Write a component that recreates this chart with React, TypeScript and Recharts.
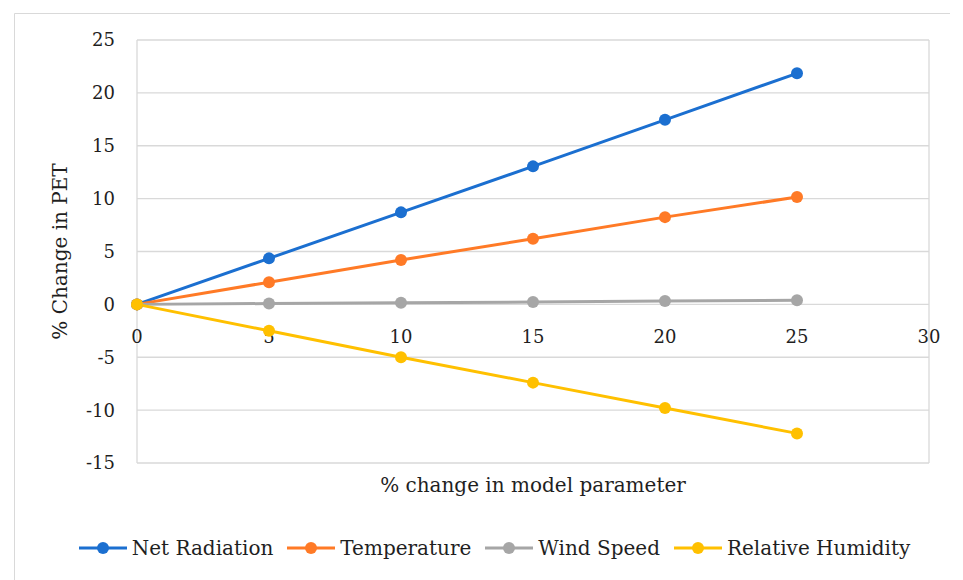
import React from 'react';
import { ComposedChart, Line, Scatter, XAxis, YAxis, CartesianGrid, Legend } from 'recharts';

const xValues = [0, 5, 10, 15, 20, 25];
const netRadiation = [0, 4.35, 8.7, 13.05, 17.45, 21.85];
const temperature = [0, 2.1, 4.2, 6.2, 8.25, 10.15];
const windSpeed = [0, 0.08, 0.16, 0.22, 0.31, 0.4];
const relativeHumidity = [0, -2.5, -5.0, -7.4, -9.8, -12.2];

const xTicks = [0, 5, 10, 15, 20, 25, 30];
const yTicks = [-15, -10, -5, 0, 5, 10, 15, 20, 25];

const seriesNames = ['Net Radiation', 'Temperature', 'Wind Speed', 'Relative Humidity'];
const seriesKeys = ['nr', 'temp', 'wind', 'rh'];
const seriesColors = ['#1b6fd0', '#ff7a26', '#a6a6a6', '#ffc000'];

const data = xValues.map((x, i) => ({
  x,
  nr: netRadiation[i],
  temp: temperature[i],
  wind: windSpeed[i],
  rh: relativeHumidity[i],
}));

const xLabelData = xTicks.map((x) => ({ x, y: 0 }));

const FONT = '"DejaVu Serif", serif';
const TEXT = '#1f1f1f';

const XLabelShape = (props: any) => {
  const { cx, cy, payload } = props;
  return (
    <text x={cx} y={cy + 32} textAnchor="middle" dominantBaseline="central" fontFamily={FONT} fontSize={18} fill={TEXT}>
      {payload.x}
    </text>
  );
};

const LegendContent = () => (
  <div style={{ display: 'flex', justifyContent: 'center', alignItems: 'center', fontFamily: FONT, fontSize: 20, color: TEXT }}>
    {seriesNames.map((name, i) => (
      <div key={name} style={{ display: 'flex', alignItems: 'center', marginRight: i < seriesNames.length - 1 ? 13 : 0 }}>
        <svg width={50} height={14} style={{ marginRight: 4 }}>
          <line x1={1} y1={7} x2={49} y2={7} stroke={seriesColors[i]} strokeWidth={3} />
          <circle cx={25} cy={7} r={6} fill={seriesColors[i]} />
        </svg>
        <span>{name}</span>
      </div>
    ))}
  </div>
);

export default function App() {
  return (
    <div style={{ position: 'absolute', left: 0, top: 0, width: 963, height: 580, background: '#fff' }}>
      <svg width={963} height={580} style={{ position: 'absolute', left: 0, top: 0 }}>
        <line x1={14.5} y1={13.5} x2={950} y2={13.5} stroke="#d9d9d9" strokeWidth={1} />
        <line x1={14.5} y1={13.5} x2={14.5} y2={580} stroke="#d9d9d9" strokeWidth={1} />
      </svg>
      <div style={{ position: 'absolute', left: 0, top: 0 }}>
        <ComposedChart width={963} height={580} data={data} margin={{ top: 40, right: 34, left: 40, bottom: 53 }}>
          <CartesianGrid stroke="#d9d9d9" strokeWidth={1.3} />
          <XAxis
            dataKey="x"
            type="number"
            domain={[0, 30]}
            ticks={xTicks}
            tick={false}
            axisLine={false}
            tickLine={false}
            height={40}
            label={{
              content: (p: any) => {
                const vb = p.viewBox;
                return (
                  <text x={vb.x + vb.width / 2} y={vb.y + 22} textAnchor="middle" dominantBaseline="central" fontFamily={FONT} fontSize={20} fill={TEXT}>
                    % change in model parameter
                  </text>
                );
              },
            }}
          />
          <YAxis
            type="number"
            domain={[-15, 25]}
            ticks={yTicks}
            axisLine={false}
            tickLine={false}
            tickSize={0}
            tickMargin={22}
            width={97}
            tick={{ fontFamily: FONT, fontSize: 18, fill: TEXT }}
            label={{
              content: (p: any) => {
                const vb = p.viewBox;
                const cx = vb.x + 20;
                const cy = vb.y + vb.height / 2;
                return (
                  <text x={cx} y={cy} transform={`rotate(-90, ${cx}, ${cy})`} textAnchor="middle" dominantBaseline="central" fontFamily={FONT} fontSize={20} fill={TEXT}>
                    % Change in PET
                  </text>
                );
              },
            }}
          />
          <Scatter data={xLabelData} dataKey="y" shape={XLabelShape} isAnimationActive={false} legendType="none" />
          {seriesKeys.map((k, i) => (
            <Line
              key={k}
              type="linear"
              dataKey={k}
              name={seriesNames[i]}
              stroke={seriesColors[i]}
              strokeWidth={3}
              dot={{ r: 6, fill: seriesColors[i], stroke: 'none' }}
              activeDot={false}
              isAnimationActive={false}
            />
          ))}
          <Legend verticalAlign="bottom" content={LegendContent} wrapperStyle={{ left: 26, width: 936, bottom: 20 }} />
        </ComposedChart>
      </div>
    </div>
  );
}
